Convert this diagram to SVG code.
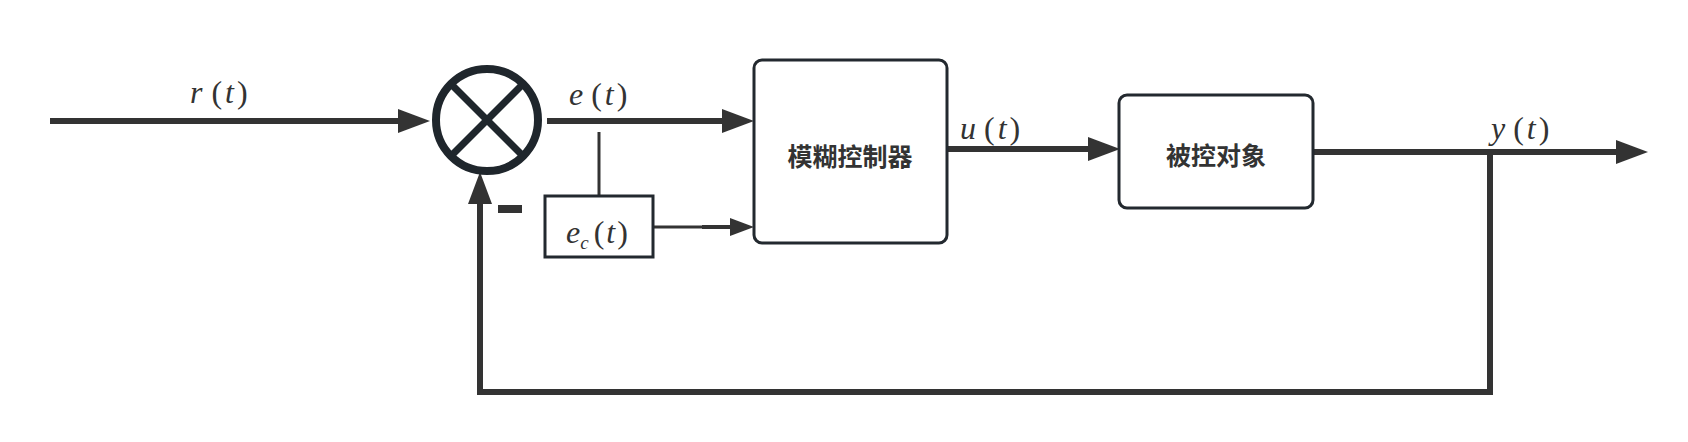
<svg xmlns="http://www.w3.org/2000/svg" width="1688" height="442" viewBox="0 0 1688 442">
<style>
.wire{fill:none;stroke:#333333;stroke-width:6;}
.thin{fill:none;stroke:#333333;stroke-width:3;}
.box{fill:#ffffff;stroke:#23292f;stroke-width:3;}
.math{font-family:"Liberation Serif","DejaVu Serif",serif;font-size:32px;fill:#333333;}
.it{font-style:italic;}
.cn{font-family:"Noto Sans CJK SC","Noto Sans",sans-serif;font-size:25px;font-weight:bold;fill:#333333;text-anchor:middle;dominant-baseline:central;}
</style>
<defs>
<marker id="big" markerUnits="userSpaceOnUse" markerWidth="32" markerHeight="24" refX="0" refY="12" orient="auto" overflow="visible">
<path d="M0,0 L32,12 L0,24 Z" fill="#333333"/>
</marker>
<marker id="small" markerUnits="userSpaceOnUse" markerWidth="24" markerHeight="18" refX="0" refY="9" orient="auto" overflow="visible">
<path d="M0,0 L24,9 L0,18 Z" fill="#333333"/>
</marker>
</defs>

<g id="connectors">
<line class="wire" x1="50" y1="121" x2="398" y2="121" marker-end="url(#big)"/>
<line class="wire" x1="547" y1="121" x2="722" y2="121" marker-end="url(#big)"/>
<line class="thin" x1="599" y1="132" x2="599" y2="196"/>
<line class="thin" x1="653" y1="227" x2="703" y2="227"/>
<line class="thin" x1="702" y1="227" x2="730" y2="227" style="stroke-width:4" marker-end="url(#small)"/>
<line class="wire" x1="947" y1="149" x2="1088" y2="149" marker-end="url(#big)"/>
<line class="wire" x1="1313" y1="152" x2="1616" y2="152" marker-end="url(#big)"/>
<path class="wire" d="M1490,152 V392 H480 V204" marker-end="url(#big)"/>
<rect x="498" y="205" width="24" height="8" fill="#333333"/>
</g>

<g id="sum">
<circle cx="487" cy="120" r="51" fill="#ffffff" stroke="#1f262c" stroke-width="8"/>
<line x1="453" y1="86" x2="521" y2="154" stroke="#1f262c" stroke-width="7"/>
<line x1="521" y1="86" x2="453" y2="154" stroke="#1f262c" stroke-width="7"/>
</g>

<g id="ec-block">
<rect class="box" x="545" y="196" width="108" height="61"/>
<text class="math" x="566" y="243"><tspan class="it">e</tspan><tspan class="it" font-size="19" dy="6">c</tspan><tspan dx="5" dy="-6">(</tspan><tspan class="it" dx="2">t</tspan><tspan dx="2">)</tspan></text>
</g>

<g id="fuzzy-controller">
<rect class="box" x="754" y="60" width="193" height="183" rx="8"/>
<text class="cn" x="850" y="155">模糊控制器</text>
</g>

<g id="plant">
<rect class="box" x="1119" y="95" width="194" height="113" rx="8"/>
<text class="cn" x="1216" y="154">被控对象</text>
</g>

<g id="labels">
<text class="math" x="190" y="103"><tspan class="it">r</tspan><tspan dx="9">(</tspan><tspan class="it" dx="3">t</tspan><tspan dx="3">)</tspan></text>
<text class="math" x="569" y="105"><tspan class="it">e</tspan><tspan dx="8">(</tspan><tspan class="it" dx="3">t</tspan><tspan dx="3">)</tspan></text>
<text class="math" x="960" y="139"><tspan class="it">u</tspan><tspan dx="8">(</tspan><tspan class="it" dx="3">t</tspan><tspan dx="3">)</tspan></text>
<text class="math" x="1491" y="139"><tspan class="it">y</tspan><tspan dx="8">(</tspan><tspan class="it" dx="3">t</tspan><tspan dx="3">)</tspan></text>
</g>
</svg>
